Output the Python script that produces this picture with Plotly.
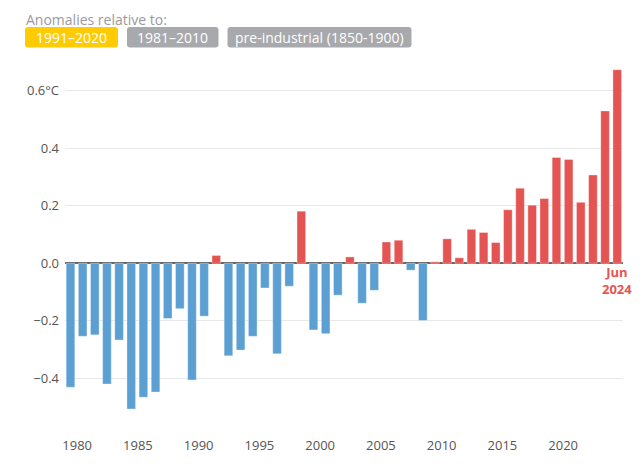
import plotly.graph_objects as go

# June global surface air temperature anomalies (°C), relative to 1991-2020
years = list(range(1979, 2025))
anomalies = [
    -0.431, -0.254, -0.249, -0.420, -0.267, -0.507, -0.466, -0.448, -0.192, -0.158,
    -0.406, -0.184, 0.027, -0.322, -0.302, -0.254, -0.086, -0.315, -0.080, 0.181,
    -0.232, -0.245, -0.111, 0.022, -0.139, -0.094, 0.074, 0.080, -0.024, -0.199,
    0.005, 0.085, 0.019, 0.118, 0.107, 0.072, 0.186, 0.261, 0.202, 0.225,
    0.368, 0.361, 0.212, 0.307, 0.530, 0.673,
]
y_tickvals = [-0.4, -0.2, 0.0, 0.2, 0.4, 0.6]
y_ticktext = ["−0.4", "−0.2", "0.0", "0.2", "0.4", "0.6°C"]
baselines = ["1991–2020", "1981–2010", "pre-industrial (1850-1900)"]

RED = "#e45452"
BLUE = "#5b9fd3"
GREY_TXT = "#555555"
FONT = "Open Sans"

# monthly value -> place the bar in the middle of June
dates = [f"{y}-06-15" for y in years]
colors = [RED if v > 0 else BLUE for v in anomalies]

fig = go.Figure(go.Bar(
    x=dates,
    y=anomalies,
    marker=dict(color=colors, line=dict(color="rgba(255,255,255,0.35)", width=1)),
    hovertemplate="%{x|%b %Y}: %{y:.2f}°C<extra></extra>",
))

# the page body adds an 8px margin, so the figure is a bit smaller than the window
OFF = 8
W, H = 640 - OFF, 470 - OFF
L, R, T, B = 57, 17, 54, 40
pw, ph = W - L - R, H - T - B


def px_x(px):
    # window pixel -> paper x
    return (px - OFF - L) / pw


def px_y(py):
    # window pixel -> paper y
    return (H - B - (py - OFF)) / ph


def rounded_box(x0, y0, x1, y1, r=3):
    # rounded rectangle as svg path, pixel inputs converted to paper units
    rx = r / pw
    ry = r / ph
    a, b, c, d = px_x(x0), px_y(y0), px_x(x1), px_y(y1)
    return (f"M {a + rx} {b} L {c - rx} {b} Q {c} {b} {c} {b - ry} "
            f"L {c} {d + ry} Q {c} {d} {c - rx} {d} L {a + rx} {d} "
            f"Q {a} {d} {a} {d + ry} L {a} {b - ry} Q {a} {b} {a + rx} {b} Z")


boxes = [(25, 27, 118, 47.5), (127, 27, 218.5, 47.5), (227.5, 27, 411.5, 47.5)]
box_colors = ["#ffcb05", "#a7a9ad", "#a7a9ad"]
shapes = []
annotations = []
for (x0, y0, x1, y1), bc, label in zip(boxes, box_colors, baselines):
    shapes.append(dict(type="path", path=rounded_box(x0, y0, x1, y1), xref="paper", yref="paper",
                       fillcolor=bc, line=dict(width=0), layer="above"))
    annotations.append(dict(x=px_x((x0 + x1) / 2), y=px_y((y0 + y1) / 2 + 0.5), xref="paper", yref="paper",
                            text=label, showarrow=False, xanchor="center", yanchor="middle",
                            font=dict(family=FONT, size=14, color="white")))

annotations.append(dict(x=px_x(24), y=px_y(8), xref="paper", yref="paper",
                        text="Anomalies relative to:", showarrow=False,
                        xanchor="left", yanchor="top",
                        font=dict(family=FONT, size=14, color="#9a9a9a")))

# label under the latest bar
annotations.append(dict(x=dates[-1], y=0, text="<b>Jun<br>2024</b>", showarrow=False,
                        xanchor="center", yanchor="top", yshift=2,
                        font=dict(family=FONT, size=13, color=RED)))

fig.update_layout(
    width=W, height=H,
    margin=dict(l=L, r=R, t=T, b=B),
    plot_bgcolor="white",
    paper_bgcolor="white",
    bargap=0.29,
    showlegend=False,
    shapes=shapes,
    annotations=annotations,
    font=dict(family=FONT, size=13, color=GREY_TXT),
)

fig.update_xaxes(
    type="date",
    range=["1979-01-01", "2024-12-05"],
    tick0="1980-01-01",
    dtick="M60",
    tickformat="%Y",
    showgrid=False,
    zeroline=False,
    showline=False,
    ticks="",
    ticklabelstandoff=6,
    tickfont=dict(size=13, color=GREY_TXT),
)

fig.update_yaxes(
    range=[-0.58, 0.7],
    tickvals=y_tickvals,
    ticktext=y_ticktext,
    showgrid=True,
    gridcolor="#e8e8e8",
    gridwidth=1,
    zeroline=True,
    zerolinecolor="#666666",
    zerolinewidth=1.5,
    ticks="",
    ticklabelstandoff=5,
    tickfont=dict(size=13, color=GREY_TXT),
)

fig.write_html("out.html")
